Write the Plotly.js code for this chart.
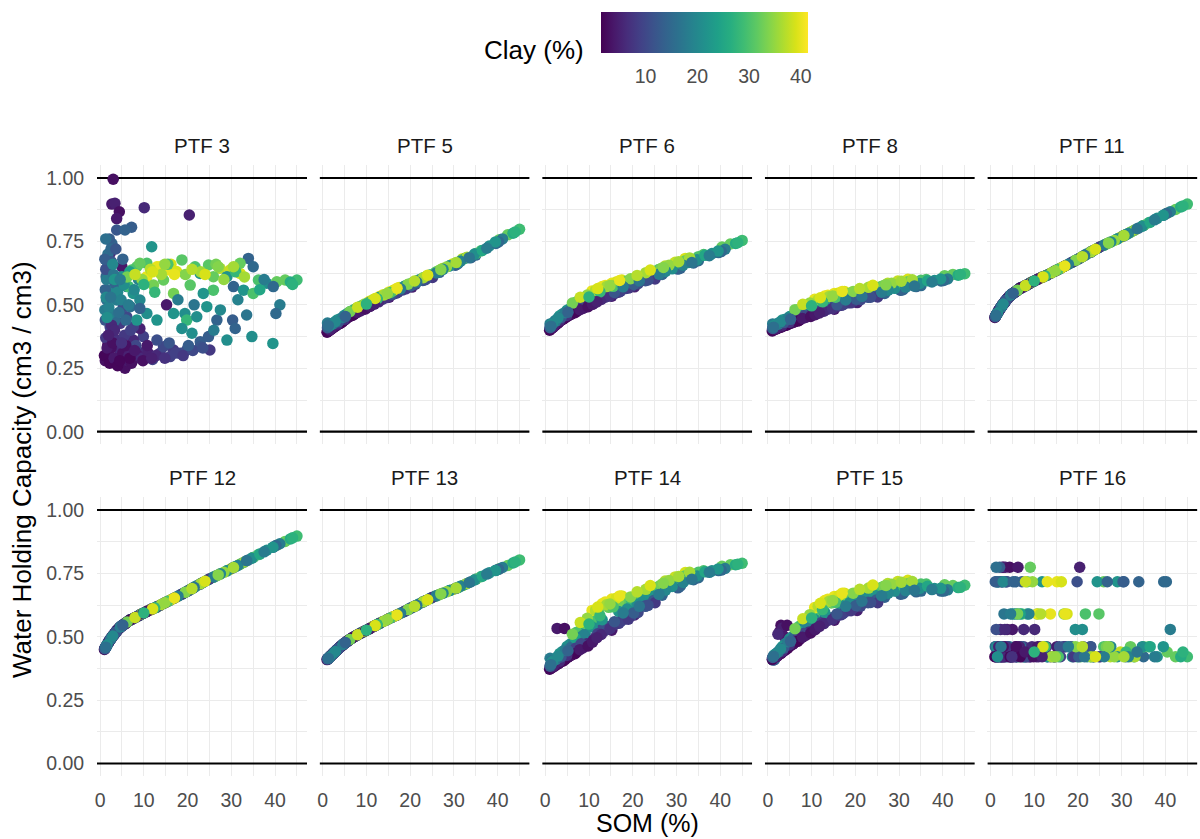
<!DOCTYPE html>
<html><head><meta charset="utf-8">
<script src="https://cdn.plot.ly/plotly-3.0.1.min.js"></script>
<style>html,body{margin:0;padding:0;background:#fff}#chart{width:1200px;height:839px}</style>
</head><body><div id="chart"></div>
<script>
// Soil samples: soil organic matter (%) and clay (%)
const som = [3.0,2.7,3.4,4.4,3.8,10.1,20.4,3.8,7.2,5.7, 11.8,2.7,2.3,1.9,5.0,8.4,10.7,13.0,15.2,17.5, 18.7,21.7,24.8,27.4,29.7,32.0,33.9,35.0,32.0,10.7, 12.2,14.5,16.8,13.7,20.6,22.9,25.9,29.0,30.5,32.8, 35.0,25.9,23.6,36.2,38.1,40.4,42.3,45.0,39.6,41.1, 40.2,39.5,15.2,16.8,19.4,19.8,22.1,24.4,26.7,30.3, 30.9,29.0,34.7,18.7,21.0,22.9,24.8,25.1,22.9,1.5, 3.0,5.7,4.6,6.9,9.1,11.4,13.7,16.0,18.3,19.8, 16.8,14.5,13.0,9.9,7.6,3.8,2.3,2.3,4.6,9.1, 7.6,6.1,5.3,1.1,1.5,2.3,3.4,5.0,6.1,7.6, 9.1,3.8,6.9,3.4,8.4,10.7,13.0,9.1,2.3,1.4, 1.7,7.2,9.1,6.5,1.2,2.0,1.8,3.5,4.2,5.0, 6.3,8.0,10.5,12.0,1.3,2.8,1.2,2.5, 1.2,1.5,1.8,2.1,2.5,1.4,2.0,1.3,2.6,3.1, 4.0,4.8,5.5,6.5,7.8,8.8,4.3,5.9,3.3,6.8, 1.0,2.2,3.2,4.0,5.2,6.6,7.2,8.6,9.5,11.0, 3.7,5.6,7.0,2.6,8.2,12.8,14.8,17.2,19.0,21.2, 23.5,15.8,20.2,11.5,14.0,16.2,19.5,23.0,26.5,28.3, 31.0,33.0,9.6,12.5,15.5,17.8,21.5,27.5,31.5,33.5, 26.0,36.5,43.5,44.0,37.5, 1.6,2.9,4.5,5.9,6.8,7.9,9.8,10.8,3.3,4.9, 1.9,11.8,6.2,8.0,12.0,14.8,17.0,21.0,24.0,27.0, 30.5,10.0,1.1,2.4,3.6,1.6,4.6,2.9,1.3,5.2];
const clay = [3,4,5,3,4,6,5,12,13,14, 22,14,6,12,4,31,30,40,40,39, 31,30,31,37,38,39,14,15,32,40, 33,32,33,40,31,22,32,22,14,22, 30,30,22,30,21,32,32,29,15,18, 15,22,4,22,21,28,21,22,14,13, 14,21,21,21,21,13,13,8,12,3, 2,3,4,5,6,7,8,9,10,11, 8,10,11,9,6,4,5,9,8,5, 9,10,11,18,16,20,14,22,20,22, 20,18,16,15,22,21,22,14,18,15, 17,30,32,29,3,4,2,3,6,5, 4,7,6,9,8,10,12,3, 14,18,16,13,15,20,19,11,12,17, 20,19,21,18,20,19,16,15,22,24, 2,2,4,2,3,5,3,4,6,5, 7,8,9,6,10,6,7,9,8,10, 11,12,13,37,36,39,34,36,33,35, 28,36,35,28,30,18,17,20,19,17, 18,25,26,27,18, 4,3,2,3,2,4,3,4,6,7, 5,5,33,38,39,35,40,37,39,34, 36,27,13,17,12,21,18,20,16,14];

// Water holding capacity (cm3/cm3) predicted by each PTF
const whcPTF3 = [0.995,0.897,0.90,0.867,0.84,0.883,0.854,0.795,0.806,0.795, 0.729,0.742,0.703,0.677,0.65,0.65,0.664,0.65,0.637,0.631, 0.677,0.65,0.657,0.644,0.637,0.624,0.683,0.65,0.664,0.611, 0.578,0.598,0.545,0.65,0.578,0.624,0.611,0.611,0.572,0.558, 0.545,0.558,0.545,0.598,0.585,0.591,0.598,0.598,0.572,0.50, 0.466,0.348,0.50,0.466,0.466,0.44,0.453,0.493,0.44,0.44, 0.407,0.361,0.375,0.407,0.388,0.355,0.375,0.322,0.335,0.296, 0.283,0.25,0.309,0.322,0.309,0.296,0.309,0.296,0.309,0.322, 0.322,0.335,0.361,0.375,0.361,0.361,0.388,0.414,0.427,0.407, 0.414,0.453,0.493,0.48,0.519,0.558,0.585,0.611,0.572,0.545, 0.519,0.519,0.493,0.44,0.44,0.466,0.44,0.486,0.466,0.611, 0.65,0.637,0.664,0.572,0.28,0.31,0.345,0.27,0.33,0.29, 0.28,0.29,0.32,0.285,0.37,0.40,0.44,0.33, 0.56,0.60,0.70,0.76,0.72,0.53,0.49,0.64,0.67,0.62, 0.55,0.52,0.58,0.50,0.56,0.60,0.47,0.44,0.60,0.63, 0.30,0.27,0.29,0.26,0.31,0.30,0.27,0.30,0.29,0.31, 0.36,0.38,0.40,0.42,0.34,0.30,0.29,0.31,0.30,0.32, 0.33,0.35,0.34,0.64,0.62,0.66,0.62,0.63,0.66,0.60, 0.63,0.61,0.60,0.55,0.66,0.52,0.50,0.48,0.52,0.46, 0.40,0.56,0.59,0.58,0.60, 0.33,0.35,0.28,0.34,0.29,0.32,0.28,0.34,0.40,0.35, 0.38,0.29,0.61,0.62,0.63,0.66,0.62,0.64,0.62,0.65, 0.65,0.58,0.68,0.53,0.72,0.45,0.60,0.66,0.76,0.68];
const whcPTF5 = [0.418,0.415,0.424,0.433,0.427,0.49,0.57,0.435,0.473,0.46, 0.52,0.425,0.413,0.413,0.441,0.491,0.51,0.533,0.551,0.568, 0.573,0.596,0.619,0.643,0.661,0.682,0.686,0.696,0.679,0.514, 0.524,0.542,0.56,0.539,0.588,0.606,0.629,0.654,0.658,0.685, 0.702,0.628,0.611,0.713,0.732,0.757,0.776,0.798,0.742,0.76, 0.748,0.748,0.53,0.56,0.578,0.581,0.599,0.617,0.628,0.656, 0.662,0.653,0.70,0.573,0.591,0.597,0.611,0.608,0.596,0.398, 0.417,0.449,0.436,0.462,0.482,0.502,0.522,0.541,0.559,0.572, 0.546,0.53,0.519,0.491,0.469,0.427,0.412,0.416,0.44,0.481, 0.472,0.461,0.452,0.428,0.422,0.427,0.433,0.459,0.471,0.485, 0.496,0.441,0.473,0.434,0.492,0.51,0.53,0.49,0.425,0.42, 0.425,0.481,0.498,0.475,0.395,0.407,0.402,0.423,0.433,0.442, 0.456,0.474,0.493,0.509,0.401,0.423,0.412,0.412, 0.41,0.413,0.416,0.417,0.424,0.414,0.422,0.404,0.422,0.433, 0.445,0.454,0.464,0.472,0.485,0.492,0.444,0.464,0.44,0.475, 0.392,0.407,0.421,0.427,0.443,0.46,0.463,0.476,0.485,0.497, 0.429,0.453,0.467,0.416,0.479,0.512,0.529,0.55,0.563,0.581, 0.599,0.542,0.576,0.52,0.539,0.558,0.581,0.607,0.634,0.649, 0.668,0.688,0.503,0.524,0.549,0.563,0.59,0.64,0.672,0.686, 0.626,0.714,0.782,0.787,0.723, 0.401,0.417,0.433,0.452,0.458,0.47,0.484,0.494,0.424,0.443, 0.406,0.503,0.473,0.491,0.525,0.545,0.565,0.594,0.617,0.639, 0.667,0.503,0.41,0.425,0.433,0.418,0.45,0.434,0.418,0.454];
const whcPTF6 = [0.431,0.427,0.439,0.448,0.443,0.50,0.571,0.452,0.488,0.476, 0.537,0.438,0.424,0.423,0.455,0.523,0.54,0.572,0.585,0.598, 0.594,0.611,0.631,0.653,0.668,0.683,0.665,0.674,0.674,0.555, 0.556,0.569,0.585,0.576,0.606,0.608,0.639,0.644,0.643,0.667, 0.69,0.636,0.613,0.698,0.702,0.728,0.74,0.754,0.706,0.719, 0.71,0.712,0.534,0.57,0.585,0.597,0.603,0.617,0.62,0.641, 0.645,0.642,0.678,0.581,0.595,0.597,0.608,0.602,0.595,0.408, 0.43,0.461,0.451,0.474,0.493,0.511,0.53,0.546,0.564,0.575, 0.55,0.538,0.529,0.503,0.481,0.443,0.423,0.427,0.456,0.491, 0.486,0.475,0.468,0.425,0.419,0.438,0.449,0.479,0.489,0.504, 0.513,0.46,0.489,0.45,0.51,0.527,0.545,0.504,0.436,0.417, 0.425,0.512,0.53,0.505,0.404,0.417,0.412,0.438,0.45,0.457, 0.468,0.486,0.503,0.519,0.409,0.435,0.411,0.423, 0.413,0.421,0.426,0.428,0.436,0.422,0.432,0.411,0.435,0.448, 0.465,0.473,0.483,0.489,0.503,0.51,0.463,0.48,0.457,0.50, 0.40,0.418,0.435,0.443,0.456,0.472,0.474,0.486,0.496,0.505, 0.444,0.467,0.481,0.428,0.491,0.521,0.535,0.554,0.566,0.583, 0.598,0.549,0.58,0.557,0.572,0.59,0.603,0.627,0.643,0.656, 0.663,0.685,0.539,0.551,0.573,0.571,0.594,0.632,0.656,0.667, 0.621,0.695,0.742,0.745,0.694, 0.41,0.429,0.448,0.463,0.469,0.481,0.493,0.502,0.439,0.458, 0.416,0.512,0.507,0.53,0.564,0.576,0.596,0.616,0.637,0.647, 0.67,0.531,0.41,0.436,0.449,0.425,0.469,0.448,0.416,0.471];
const whcPTF8 = [0.414,0.413,0.418,0.422,0.42,0.46,0.509,0.431,0.456,0.447, 0.498,0.424,0.412,0.414,0.428,0.493,0.505,0.535,0.545,0.553, 0.545,0.555,0.567,0.585,0.594,0.601,0.572,0.576,0.591,0.522, 0.519,0.528,0.54,0.538,0.552,0.546,0.572,0.567,0.559,0.579, 0.597,0.569,0.549,0.60,0.596,0.615,0.62,0.623,0.594,0.602, 0.596,0.602,0.483,0.521,0.532,0.545,0.541,0.551,0.545,0.558, 0.56,0.565,0.584,0.528,0.537,0.531,0.538,0.531,0.53,0.403, 0.412,0.431,0.426,0.441,0.456,0.469,0.483,0.496,0.508,0.517, 0.498,0.49,0.484,0.465,0.448,0.42,0.411,0.415,0.431,0.454, 0.452,0.445,0.44,0.425,0.414,0.427,0.43,0.454,0.46,0.473, 0.479,0.439,0.459,0.431,0.478,0.489,0.504,0.469,0.424,0.412, 0.417,0.483,0.499,0.477,0.40,0.408,0.404,0.417,0.425,0.429, 0.436,0.451,0.463,0.476,0.405,0.421,0.408,0.41, 0.409,0.416,0.417,0.418,0.424,0.417,0.423,0.407,0.422,0.432, 0.443,0.449,0.457,0.459,0.471,0.475,0.44,0.45,0.44,0.471, 0.397,0.407,0.416,0.419,0.427,0.44,0.44,0.45,0.458,0.464, 0.423,0.438,0.448,0.415,0.457,0.475,0.486,0.501,0.508,0.52, 0.53,0.50,0.522,0.521,0.533,0.547,0.553,0.569,0.576,0.585, 0.582,0.599,0.507,0.512,0.53,0.519,0.533,0.558,0.57,0.574, 0.55,0.595,0.617,0.62,0.59, 0.405,0.413,0.422,0.432,0.436,0.446,0.454,0.461,0.42,0.431, 0.408,0.468,0.481,0.502,0.528,0.535,0.553,0.564,0.577,0.579, 0.593,0.496,0.407,0.424,0.43,0.42,0.445,0.433,0.412,0.443];
const whcPTF11 = [0.505,0.498,0.514,0.534,0.523,0.595,0.684,0.523,0.568,0.552, 0.61,0.498,0.488,0.477,0.543,0.579,0.60,0.618,0.637,0.657, 0.668,0.697,0.726,0.747,0.766,0.786,0.803,0.813,0.786,0.60, 0.611,0.631,0.651,0.624,0.686,0.708,0.735,0.76,0.773,0.793, 0.813,0.735,0.715,0.824,0.841,0.861,0.876,0.897,0.853,0.867, 0.86,0.853,0.637,0.651,0.675,0.678,0.701,0.722,0.742,0.771, 0.776,0.76,0.81,0.668,0.69,0.708,0.726,0.729,0.708,0.465, 0.505,0.552,0.538,0.567,0.586,0.606,0.624,0.644,0.665,0.678, 0.651,0.631,0.618,0.593,0.572,0.523,0.488,0.488,0.538,0.586, 0.572,0.557,0.547,0.453,0.465,0.488,0.514,0.543,0.557,0.572, 0.586,0.523,0.567,0.514,0.579,0.60,0.618,0.586,0.488,0.462, 0.471,0.568,0.586,0.562,0.456,0.48,0.474,0.516,0.531,0.543, 0.56,0.576,0.598,0.61,0.459,0.501,0.456,0.493, 0.456,0.465,0.474,0.483,0.493,0.462,0.48,0.459,0.495,0.507, 0.527,0.542,0.549,0.562,0.574,0.583,0.532,0.554,0.511,0.566, 0.45,0.485,0.509,0.527,0.546,0.563,0.568,0.581,0.59,0.603, 0.52,0.55,0.566,0.495,0.577,0.616,0.634,0.655,0.671,0.692, 0.714,0.642,0.682,0.606,0.627,0.646,0.676,0.709,0.74,0.754, 0.777,0.795,0.591,0.614,0.64,0.66,0.695,0.748,0.781,0.80, 0.736,0.826,0.886,0.89,0.835, 0.468,0.503,0.536,0.554,0.566,0.575,0.592,0.601,0.511,0.541, 0.477,0.609,0.558,0.576,0.61,0.634,0.653,0.69,0.719,0.744, 0.773,0.594,0.453,0.49,0.518,0.468,0.538,0.503,0.459,0.546];
const whcPTF12 = [0.505,0.498,0.514,0.534,0.523,0.595,0.684,0.523,0.568,0.552, 0.61,0.498,0.488,0.477,0.543,0.579,0.60,0.618,0.637,0.657, 0.668,0.697,0.726,0.747,0.766,0.786,0.803,0.813,0.786,0.60, 0.611,0.631,0.651,0.624,0.686,0.708,0.735,0.76,0.773,0.793, 0.813,0.735,0.715,0.824,0.841,0.861,0.876,0.897,0.853,0.867, 0.86,0.853,0.637,0.651,0.675,0.678,0.701,0.722,0.742,0.771, 0.776,0.76,0.81,0.668,0.69,0.708,0.726,0.729,0.708,0.465, 0.505,0.552,0.538,0.567,0.586,0.606,0.624,0.644,0.665,0.678, 0.651,0.631,0.618,0.593,0.572,0.523,0.488,0.488,0.538,0.586, 0.572,0.557,0.547,0.453,0.465,0.488,0.514,0.543,0.557,0.572, 0.586,0.523,0.567,0.514,0.579,0.60,0.618,0.586,0.488,0.462, 0.471,0.568,0.586,0.562,0.456,0.48,0.474,0.516,0.531,0.543, 0.56,0.576,0.598,0.61,0.459,0.501,0.456,0.493, 0.456,0.465,0.474,0.483,0.493,0.462,0.48,0.459,0.495,0.507, 0.527,0.542,0.549,0.562,0.574,0.583,0.532,0.554,0.511,0.566, 0.45,0.485,0.509,0.527,0.546,0.563,0.568,0.581,0.59,0.603, 0.52,0.55,0.566,0.495,0.577,0.616,0.634,0.655,0.671,0.692, 0.714,0.642,0.682,0.606,0.627,0.646,0.676,0.709,0.74,0.754, 0.777,0.795,0.591,0.614,0.64,0.66,0.695,0.748,0.781,0.80, 0.736,0.826,0.886,0.89,0.835, 0.468,0.503,0.536,0.554,0.566,0.575,0.592,0.601,0.511,0.541, 0.477,0.609,0.558,0.576,0.61,0.634,0.653,0.69,0.719,0.744, 0.773,0.594,0.453,0.49,0.518,0.468,0.538,0.503,0.459,0.546];
const whcPTF13 = [0.444,0.439,0.45,0.466,0.457,0.527,0.615,0.457,0.50,0.483, 0.542,0.439,0.432,0.425,0.474,0.512,0.532,0.553,0.572,0.59, 0.60,0.626,0.653,0.672,0.686,0.702,0.717,0.727,0.702,0.532, 0.546,0.565,0.584,0.559,0.617,0.637,0.661,0.682,0.691,0.708, 0.727,0.661,0.643,0.737,0.752,0.768,0.781,0.803,0.762,0.773, 0.766,0.761,0.572,0.584,0.606,0.61,0.63,0.65,0.667,0.69, 0.694,0.682,0.724,0.60,0.62,0.637,0.653,0.656,0.637,0.418, 0.444,0.483,0.468,0.497,0.518,0.539,0.559,0.578,0.597,0.61, 0.584,0.565,0.553,0.525,0.504,0.457,0.432,0.432,0.468,0.518, 0.504,0.488,0.478,0.412,0.418,0.432,0.45,0.474,0.488,0.504, 0.518,0.457,0.497,0.45,0.512,0.532,0.553,0.518,0.432,0.416, 0.422,0.50,0.518,0.492,0.413,0.427,0.423,0.452,0.463,0.474, 0.49,0.508,0.53,0.544,0.415,0.441,0.413,0.435, 0.413,0.418,0.423,0.429,0.435,0.416,0.427,0.415,0.437,0.446, 0.46,0.471,0.48,0.492,0.506,0.515,0.464,0.486,0.449,0.496, 0.41,0.43,0.447,0.46,0.477,0.494,0.50,0.513,0.522,0.535, 0.455,0.482,0.498,0.437,0.51,0.551,0.568,0.588,0.603,0.622, 0.642,0.576,0.614,0.54,0.561,0.58,0.607,0.638,0.665,0.677, 0.695,0.71,0.522,0.548,0.574,0.593,0.624,0.672,0.699,0.714, 0.662,0.739,0.791,0.795,0.747, 0.42,0.442,0.467,0.486,0.496,0.507,0.524,0.533,0.449,0.473, 0.425,0.542,0.489,0.508,0.544,0.568,0.586,0.62,0.646,0.669, 0.692,0.526,0.412,0.433,0.454,0.42,0.469,0.442,0.415,0.477];
const whcPTF14 = [0.395,0.533,0.404,0.533,0.406,0.48,0.586,0.423,0.469,0.453, 0.555,0.41,0.392,0.395,0.42,0.54,0.569,0.63,0.649,0.661, 0.642,0.66,0.688,0.72,0.736,0.753,0.725,0.733,0.741,0.604, 0.597,0.616,0.637,0.637,0.656,0.648,0.698,0.70,0.696,0.729, 0.754,0.694,0.654,0.76,0.76,0.778,0.784,0.79,0.761,0.769, 0.763,0.767,0.526,0.60,0.614,0.64,0.637,0.662,0.664,0.693, 0.70,0.698,0.74,0.609,0.627,0.622,0.643,0.634,0.62,0.378, 0.394,0.425,0.415,0.442,0.467,0.497,0.525,0.55,0.57,0.585, 0.553,0.54,0.529,0.485,0.452,0.406,0.39,0.397,0.424,0.464, 0.461,0.448,0.44,0.415,0.405,0.413,0.421,0.462,0.474,0.501, 0.514,0.435,0.474,0.423,0.511,0.538,0.567,0.494,0.41,0.39, 0.399,0.518,0.553,0.504,0.375,0.386,0.381,0.401,0.415,0.422, 0.434,0.46,0.482,0.512,0.382,0.405,0.385,0.39, 0.387,0.395,0.398,0.399,0.409,0.396,0.406,0.385,0.405,0.422, 0.443,0.452,0.468,0.474,0.497,0.507,0.438,0.458,0.434,0.495, 0.372,0.385,0.399,0.404,0.419,0.439,0.44,0.456,0.472,0.486, 0.411,0.436,0.455,0.396,0.472,0.509,0.532,0.559,0.569,0.596, 0.624,0.559,0.594,0.604,0.626,0.652,0.657,0.687,0.705,0.722, 0.727,0.754,0.573,0.583,0.618,0.594,0.62,0.684,0.714,0.727, 0.667,0.756,0.784,0.786,0.754, 0.381,0.394,0.41,0.427,0.433,0.449,0.464,0.479,0.404,0.426, 0.386,0.496,0.51,0.556,0.617,0.629,0.661,0.677,0.702,0.711, 0.738,0.55,0.384,0.41,0.42,0.401,0.447,0.423,0.39,0.445];
const whcPTF15 = [0.545,0.52,0.535,0.545,0.50,0.525,0.604,0.458,0.508,0.49, 0.585,0.442,0.51,0.428,0.49,0.561,0.59,0.643,0.659,0.672, 0.659,0.672,0.688,0.71,0.718,0.723,0.677,0.68,0.709,0.615, 0.619,0.633,0.652,0.648,0.67,0.658,0.694,0.682,0.67,0.691, 0.708,0.69,0.661,0.708,0.69,0.705,0.702,0.703,0.68,0.685, 0.68,0.691,0.565,0.623,0.638,0.659,0.651,0.664,0.656,0.668, 0.67,0.68,0.691,0.634,0.647,0.636,0.645,0.634,0.634,0.417, 0.434,0.471,0.459,0.489,0.515,0.542,0.564,0.584,0.603,0.617, 0.587,0.575,0.567,0.53,0.498,0.447,0.428,0.432,0.465,0.512, 0.504,0.489,0.48,0.41,0.41,0.435,0.454,0.492,0.507,0.531, 0.546,0.466,0.51,0.455,0.542,0.568,0.596,0.533,0.44,0.41, 0.429,0.541,0.573,0.529,0.414,0.423,0.42,0.442,0.456,0.466, 0.48,0.505,0.53,0.554,0.418,0.44,0.408,0.429, 0.42,0.426,0.43,0.432,0.44,0.427,0.435,0.42,0.439,0.452, 0.473,0.484,0.499,0.508,0.53,0.54,0.472,0.496,0.461,0.524, 0.411,0.424,0.44,0.448,0.465,0.485,0.488,0.505,0.519,0.533, 0.45,0.479,0.498,0.433,0.513,0.552,0.569,0.592,0.603,0.621, 0.635,0.59,0.623,0.62,0.64,0.662,0.672,0.692,0.699,0.707, 0.699,0.718,0.587,0.607,0.635,0.62,0.64,0.672,0.682,0.683, 0.662,0.699,0.694,0.695,0.686, 0.419,0.434,0.454,0.474,0.482,0.498,0.515,0.528,0.443,0.468, 0.423,0.541,0.532,0.571,0.632,0.643,0.672,0.687,0.704,0.702, 0.715,0.574,0.418,0.44,0.455,0.43,0.48,0.452,0.423,0.482];
const whcPTF16 = [0.774,0.774,0.774,0.774,0.529,0.529,0.774,0.717,0.717,0.717, 0.717,0.717,0.529,0.717,0.529,0.717,0.59,0.717,0.717,0.59, 0.461,0.59,0.59,0.421,0.44,0.421,0.717,0.421,0.461,0.59, 0.461,0.421,0.59,0.59,0.421,0.421,0.717,0.717,0.717,0.421, 0.461,0.461,0.421,0.461,0.421,0.44,0.421,0.421,0.717,0.529, 0.717,0.461,0.461,0.461,0.529,0.421,0.421,0.717,0.717,0.717, 0.421,0.421,0.461,0.421,0.529,0.461,0.421,0.421,0.461,0.44, 0.421,0.461,0.421,0.461,0.421,0.461,0.421,0.421,0.461,0.717, 0.461,0.421,0.421,0.44,0.529,0.461,0.421,0.461,0.421,0.421, 0.461,0.421,0.44,0.461,0.421,0.461,0.717,0.59,0.59,0.421, 0.44,0.421,0.461,0.421,0.59,0.44,0.421,0.44,0.421,0.717, 0.717,0.59,0.774,0.421,0.421,0.44,0.421,0.461,0.421,0.421, 0.774,0.421,0.421,0.44,0.461,0.421,0.421,0.421, 0.461,0.717,0.717,0.774,0.717,0.461,0.421,0.529,0.717,0.59, 0.461,0.421,0.59,0.44,0.421,0.59,0.461,0.421,0.44,0.59, 0.421,0.461,0.421,0.44,0.421,0.461,0.421,0.421,0.461,0.421, 0.461,0.421,0.44,0.421,0.421,0.461,0.421,0.461,0.421,0.461, 0.421,0.461,0.421,0.59,0.421,0.717,0.461,0.421,0.461,0.421, 0.44,0.421,0.717,0.461,0.421,0.461,0.421,0.461,0.421,0.44, 0.421,0.461,0.421,0.44,0.421, 0.421,0.461,0.421,0.461,0.421,0.44,0.421,0.461,0.529,0.421, 0.461,0.421,0.59,0.717,0.461,0.421,0.59,0.461,0.421,0.461, 0.421,0.44,0.717,0.461,0.717,0.421,0.59,0.717,0.774,0.717];

const panelNames = ['PTF 3','PTF 5','PTF 6','PTF 8','PTF 11','PTF 12','PTF 13','PTF 14','PTF 15','PTF 16'];
const panelValues = [whcPTF3, whcPTF5, whcPTF6, whcPTF8, whcPTF11, whcPTF12, whcPTF13, whcPTF14, whcPTF15, whcPTF16];
const xTicks = [0, 10, 20, 30, 40];
const xMinor = [5, 15, 25, 35, 45];
const yTicks = [0, 0.25, 0.5, 0.75, 1];
const yTickText = ['0.00', '0.25', '0.50', '0.75', '1.00'];
const yMinor = [0.125, 0.375, 0.625, 0.875];
const refLines = [0, 1];
const clayTicks = [10, 20, 30, 40];
const xRange = [-0.7, 47.3];
const yRange = [-0.05, 1.05];

const FONT = 'Liberation Sans, Arial, sans-serif';
const W = 1200, H = 839;
const left0 = 97, colStep = 222.6, panelW = 210;
const rowPx = [[165.3, 444.4], [497.3, 776.2]];
const grid = '#EBEBEB';

const layout = {
  width: W, height: H,
  margin: {l: 0, r: 0, t: 0, b: 0},
  paper_bgcolor: '#ffffff', plot_bgcolor: '#ffffff',
  showlegend: false,
  font: {family: FONT, color: '#4D4D4D', size: 19},
  coloraxis: {
    colorscale: 'Viridis', cmin: 1.4, cmax: 41.4,
    colorbar: {
      orientation: 'h', thickness: 41, thicknessmode: 'pixels',
      len: 207, lenmode: 'pixels',
      x: 704.5 / W, xanchor: 'center', xref: 'paper',
      y: 1 - 12 / H, yanchor: 'top', yref: 'paper',
      xpad: 0, ypad: 0, outlinewidth: 0,
      tickvals: clayTicks, ticks: 'outside', ticklen: 7, tickcolor: 'rgba(0,0,0,0)',
      tickfont: {family: FONT, size: 19.5, color: '#4D4D4D'},
      title: {text: ''}
    }
  },
  annotations: []
};

const traces = [];
panelNames.forEach((name, i) => {
  const r = Math.floor(i / 5), c = i % 5;
  const k = i === 0 ? '' : String(i + 1);
  const x0 = (left0 + colStep * c) / W, x1 = (left0 + colStep * c + panelW) / W;
  const y0 = (H - rowPx[r][1]) / H, y1 = (H - rowPx[r][0]) / H;
  layout['xaxis' + k] = {
    domain: [x0, x1], anchor: 'y' + k, range: xRange,
    tickvals: xTicks, showticklabels: r === 1,
    ticks: 'outside', ticklen: 6, tickcolor: 'rgba(0,0,0,0)',
    tickfont: {family: FONT, size: 19.5, color: '#4D4D4D'},
    showgrid: true, gridcolor: grid, gridwidth: 1,
    minor: {tickvals: xMinor, showgrid: true, gridcolor: grid, gridwidth: 1},
    zeroline: false, showline: false, fixedrange: true
  };
  layout['yaxis' + k] = {
    domain: [y0, y1], anchor: 'x' + k, range: yRange,
    tickvals: yTicks, ticktext: yTickText, showticklabels: c === 0,
    ticks: 'outside', ticklen: 8, tickcolor: 'rgba(0,0,0,0)',
    tickfont: {family: FONT, size: 19.5, color: '#4D4D4D'},
    showgrid: true, gridcolor: grid, gridwidth: 1,
    minor: {tickvals: yMinor, showgrid: true, gridcolor: grid, gridwidth: 1},
    zeroline: false, showline: false, fixedrange: true
  };
  // horizontal reference lines (drawn first, points on top)
  refLines.forEach(v => {
    traces.push({
      type: 'scatter', mode: 'lines',
      x: xRange, y: [v, v],
      xaxis: 'x' + k, yaxis: 'y' + k,
      line: {color: '#000000', width: 2.2},
      hoverinfo: 'skip', cliponaxis: false
    });
  });
  layout.annotations.push({
    text: name, showarrow: false,
    xref: 'paper', yref: 'paper',
    x: (x0 + x1) / 2, y: y1 + 20 / H, xanchor: 'center', yanchor: 'middle',
    font: {family: FONT, size: 20.5, color: '#1A1A1A'}
  });
  traces.push({
    type: 'scatter', mode: 'markers',
    x: som, y: panelValues[i],
    xaxis: 'x' + k, yaxis: 'y' + k,
    marker: {color: clay, coloraxis: 'coloraxis', size: 11.5, opacity: 1, line: {width: 0}},
    hoverinfo: 'skip'
  });
});

layout.annotations.push({
  text: 'Water Holding Capacity (cm3 / cm3)', showarrow: false, textangle: -90,
  xref: 'paper', yref: 'paper', x: 22 / W, y: (H - 470) / H,
  xanchor: 'center', yanchor: 'middle',
  font: {family: FONT, size: 26, color: '#000000'}
});
layout.annotations.push({
  text: 'SOM (%)', showarrow: false,
  xref: 'paper', yref: 'paper', x: 647 / W, y: (H - 823) / H,
  xanchor: 'center', yanchor: 'middle',
  font: {family: FONT, size: 25, color: '#000000'}
});
layout.annotations.push({
  text: 'Clay (%)', showarrow: false,
  xref: 'paper', yref: 'paper', x: 586 / W, y: (H - 50) / H,
  xanchor: 'right', yanchor: 'middle',
  font: {family: FONT, size: 26, color: '#000000'}
});

Plotly.newPlot('chart', traces, layout, {displayModeBar: false, staticPlot: true});
</script>
</body></html>
